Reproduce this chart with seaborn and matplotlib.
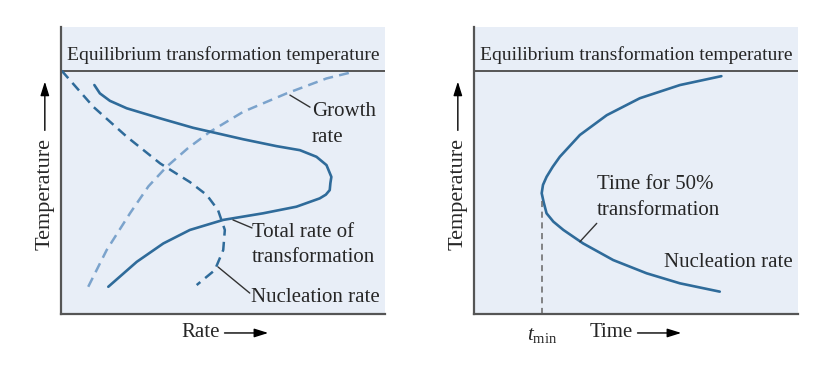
import pandas as pd
import matplotlib.pyplot as plt
import seaborn as sns

sns.set_theme(style="white")
plt.rcParams["font.family"] = ["Liberation Serif", "DejaVu Serif"]
plt.rcParams["mathtext.fontset"] = "custom"
plt.rcParams["mathtext.it"] = "Liberation Serif:italic"
plt.rcParams["mathtext.rm"] = "Liberation Serif"

# (a) rate curves, rate (x) vs temperature (y), both 0-100
growth_x = [8.4, 14.1, 21.3, 27.0, 32.6, 39.2, 46.0, 56.3, 69.7, 82.0, 89.2]
growth_y = [9.5, 22.3, 35.1, 44.5, 51.3, 57.8, 63.5, 70.5, 76.9, 82.1, 84.1]

nucl_x = [0.2, 10.0, 20.3, 30.6, 39.8, 45.0, 48.5, 50.6, 50.1, 47.5, 41.9]
nucl_y = [84.8, 72.2, 61.8, 52.5, 46.0, 41.5, 36.2, 29.3, 22.3, 15.3, 10.1]

total_x = [10.3, 12.0, 15.1, 20.3, 30.6, 40.8, 56.3, 66.6, 73.8, 78.9,
           82.0, 83.5, 83.2, 83.0, 81.8, 79.9, 72.7, 62.4, 50.1, 39.8, 31.6,
           23.4, 14.6]
total_y = [79.8, 76.9, 74.3, 71.7, 68.2, 64.9, 60.9, 58.5, 57.1, 54.8,
           51.9, 47.8, 45.6, 43.2, 41.6, 40.3, 37.4, 35.1, 32.8, 29.3, 24.6,
           18.2, 9.5]

# (b) time for 50% transformation (C-curve)
ccurve_x = [76.4, 63.6, 51.2, 41.0, 32.7, 26.5, 24.3, 22.4, 21.3, 20.9,
            21.5, 22.4, 24.5, 27.6, 33.7, 43.0, 53.3, 63.6, 75.9]
ccurve_y = [82.9, 79.8, 75.2, 69.3, 62.4, 54.8, 51.3, 47.8, 45.0, 42.1,
            39.0, 35.1, 32.2, 29.3, 24.6, 18.8, 14.2, 10.7, 7.8]

t_min = 20.9
t_min_top = 40.4
equil_temp = 84.8

line_col = "#2f6b9a"
light_col = "#7ba3cc"
bg_col = "#e8eef7"
spine_col = "#555555"
fs = 15

fig = plt.figure(figsize=(8.28, 3.66), dpi=100)
ax1 = fig.add_axes([0.0737, 0.142, 0.391, 0.784])
ax2 = fig.add_axes([0.5725, 0.142, 0.391, 0.784])


def base_axes(ax, xlabel):
    ax.set_facecolor(bg_col)
    ax.set_xlim(0, 100)
    ax.set_ylim(0, 100)
    ax.set_xticks([])
    ax.set_yticks([])
    for s in ["top", "right"]:
        ax.spines[s].set_visible(False)
    for s in ["left", "bottom"]:
        ax.spines[s].set_color(spine_col)
        ax.spines[s].set_linewidth(1.6)
    ax.axhline(equil_temp, color=spine_col, lw=1.4)
    ax.text(50, 90.2, "Equilibrium transformation temperature", ha="center",
            va="center", fontsize=14)
    # Temperature label with arrow
    ax.text(-0.05, 0.42, "Temperature", rotation=90, ha="center", va="center",
            fontsize=16, transform=ax.transAxes)
    ax.annotate("", xy=(-0.05, 0.81), xytext=(-0.05, 0.64),
                xycoords="axes fraction", annotation_clip=False,
                arrowprops=dict(arrowstyle="-|>,head_length=0.7,head_width=0.22",
                                color="black", lw=1.0, shrinkA=0, shrinkB=0))
    ax.annotate("", xy=(0.64, -0.066), xytext=(0.505, -0.066),
                xycoords="axes fraction", annotation_clip=False,
                arrowprops=dict(arrowstyle="-|>,head_length=0.7,head_width=0.22",
                                color="black", lw=1.0, shrinkA=0, shrinkB=0))
    ax.text(xlabel[1], -0.066, xlabel[0], ha="center", va="center",
            fontsize=fs, transform=ax.transAxes)


base_axes(ax1, ("Rate", 0.43))
base_axes(ax2, ("Time", 0.425))

# panel (a)
sns.lineplot(x=growth_x, y=growth_y, sort=False, estimator=None, ax=ax1,
             color=light_col, lw=1.8, linestyle=(0, (4, 2.5)))
sns.lineplot(x=nucl_x, y=nucl_y, sort=False, estimator=None, ax=ax1,
             color=line_col, lw=1.8, linestyle=(0, (4, 2.5)))
sns.lineplot(x=total_x, y=total_y, sort=False, estimator=None, ax=ax1,
             color=line_col, lw=1.9)

ax1.text(77.5, 66, "Growth\nrate", ha="left", va="center", fontsize=fs,
         linespacing=1.45)
ax1.plot([70.7, 76.9], [76.3, 72.1], color="#333333", lw=1)
ax1.text(59, 24, "Total rate of\ntransformation", ha="left", va="center",
         fontsize=fs, linespacing=1.45)
ax1.plot([53.1, 59.0], [32.8, 30.0], color="#333333", lw=1)
ax1.text(58.6, 5.9, "Nucleation rate", ha="left", va="center", fontsize=fs)
ax1.plot([48.5, 58.3], [16.4, 7.3], color="#333333", lw=1)

# panel (b)
sns.lineplot(x=ccurve_x, y=ccurve_y, sort=False, estimator=None, ax=ax2,
             color=line_col, lw=1.9)
ax2.plot([t_min, t_min], [0, t_min_top], color="#666666", lw=1.1,
         linestyle=(0, (4, 3)))
ax2.text(t_min, -7.5, r"$t_{\rm min}$", ha="center", va="center",
         fontsize=fs)
ax2.text(38, 40.6, "Time for 50%\ntransformation", ha="left", va="center",
         fontsize=fs, linespacing=1.45)
ax2.plot([32.7, 37.9], [25.2, 31.6], color="#333333", lw=1)
ax2.text(58.6, 17.8, "Nucleation rate", ha="left", va="center", fontsize=fs)

fig.savefig("out.png", dpi=100)
